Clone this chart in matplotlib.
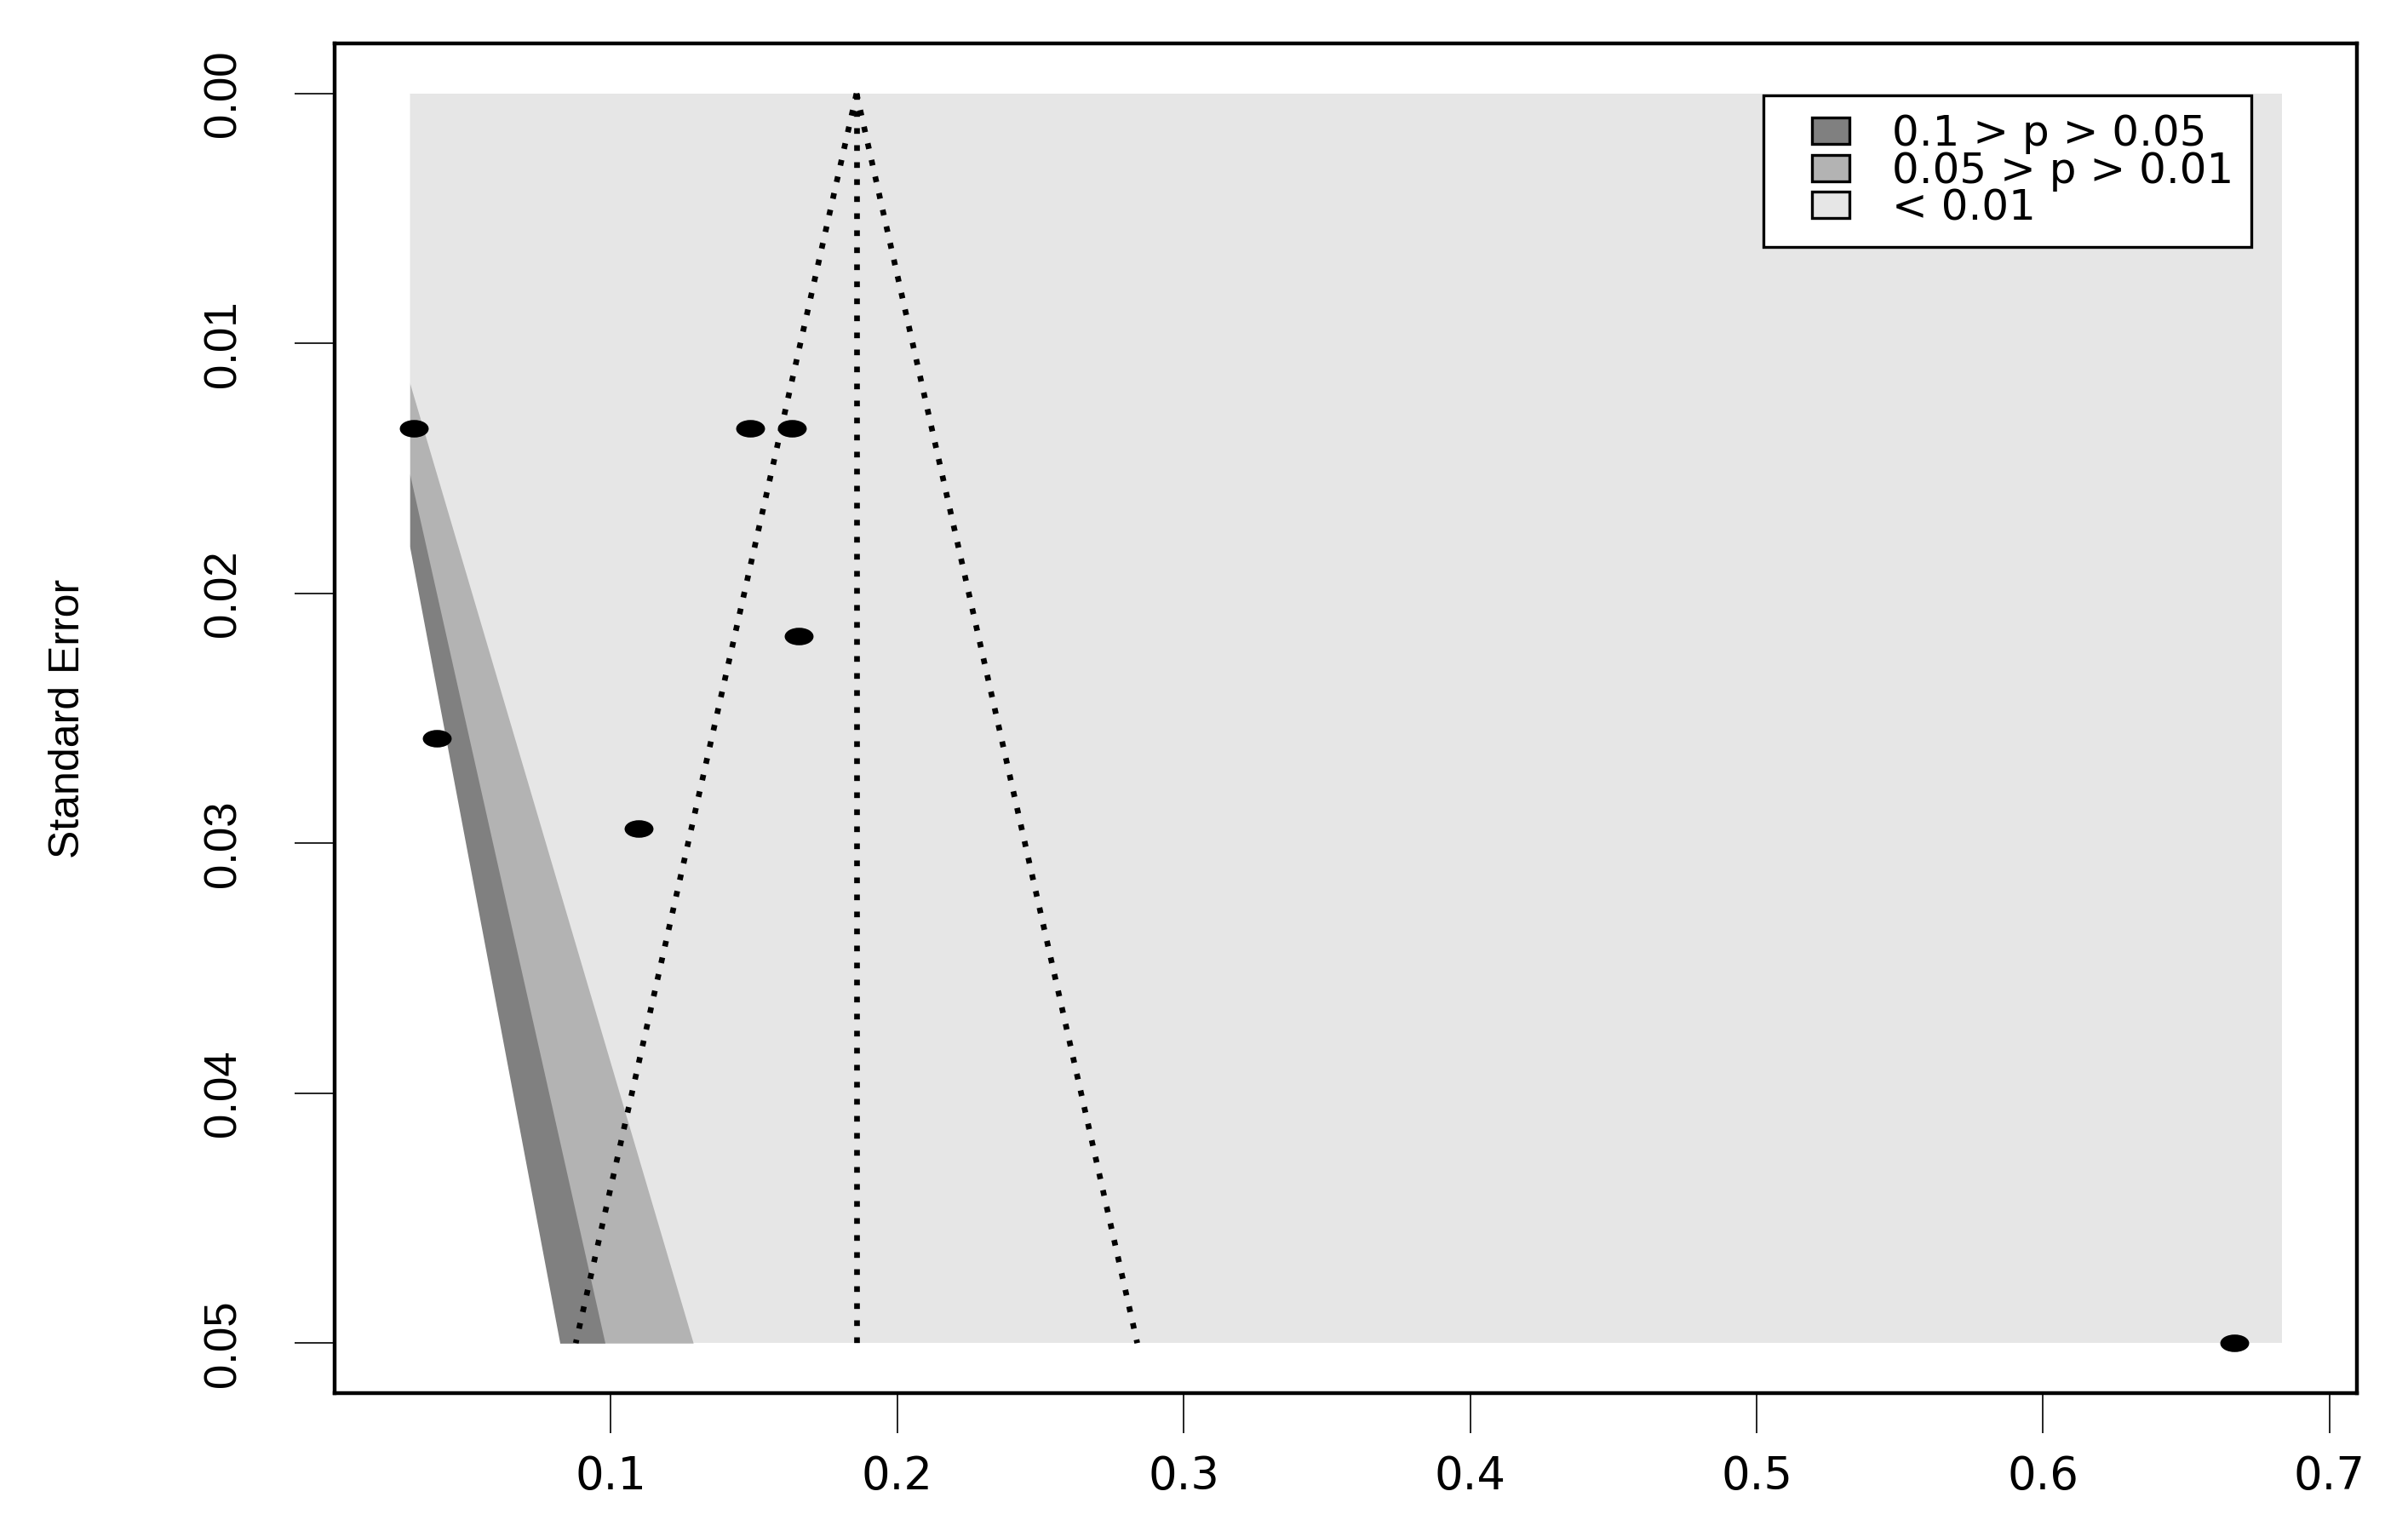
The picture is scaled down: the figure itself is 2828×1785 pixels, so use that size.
import numpy as np
import matplotlib
matplotlib.use("Agg")
import matplotlib.pyplot as plt
import matplotlib.transforms as mtransforms
from matplotlib.legend_handler import HandlerPatch
from matplotlib.patches import Patch, Rectangle
from matplotlib.path import Path

plt.rcParams["font.family"] = ["Liberation Sans", "DejaVu Sans"]
WIDE = ["DejaVu Sans"]  # wider face, stands in for the horizontally stretched Arial

# study estimates and their standard errors (read off the funnel)
EFFECT = [0.0314, 0.1488, 0.1633, 0.1655, 0.0394, 0.1097, 0.6668]
SE = [0.0134, 0.0134, 0.0134, 0.0217, 0.0258, 0.0294, 0.0500]
POOLED = 0.1858

# contour-enhanced region (centred on 0)
REGION_X = [0.0298, 0.6834]
SE_MAX = 0.05
Z_LEVELS = [2.576, 1.96, 1.645]          # p = 0.01, 0.05, 0.10
SHADES = ["#E6E6E6", "#B3B3B3", "#808080", "white"]
LEGEND_LABELS = ["0.1 > p > 0.05", "0.05 > p > 0.01", "< 0.01"]
LEGEND_COLORS = ["#808080", "#B3B3B3", "#E6E6E6"]

X_TICKS = [0.1, 0.2, 0.3, 0.4, 0.5, 0.6, 0.7]
Y_TICKS = [0.00, 0.01, 0.02, 0.03, 0.04, 0.05]


def _right_box(legend, orig_handle, xdescent, ydescent, width, height, fontsize):
    # R puts the fill box a bit in from the frame; keep it at the right of the handle slot
    w = 0.88 * fontsize
    return Rectangle((-xdescent + width - w, -ydescent), w, height)


def main():
    fig = plt.figure(figsize=(14.14, 8.925), dpi=200)
    ax = fig.add_axes([0.139, 0.0835, 0.8398, 0.8879])

    xl, xr = REGION_X
    se_grid = np.linspace(0, SE_MAX, 600)

    # light background for p < 0.01, then bands on top
    ax.fill_between(REGION_X, 0, SE_MAX, color=SHADES[0], lw=0, zorder=1,
                    antialiased=False)
    for z, col in zip(Z_LEVELS, SHADES[1:]):
        se = se_grid
        left = xl
        if col == "white":
            # hide the grey seams round the white wedge
            se = np.append(se_grid, SE_MAX * 1.01)
            left = xl - 0.004
        edge = np.clip(z * se, xl, xr)
        ax.fill_betweenx(se, left, np.maximum(edge, left), color=col, lw=0,
                         zorder=2, antialiased=False)

    # pseudo confidence funnel around the pooled estimate
    dot = dict(color="black", lw=2.4, linestyle=(0, (1, 2)), dash_capstyle="butt", zorder=3)
    ax.plot([POOLED, POOLED], [0, SE_MAX], **dot)
    ax.plot([POOLED, POOLED - 1.96 * SE_MAX], [0, SE_MAX], **dot)
    ax.plot([POOLED, POOLED + 1.96 * SE_MAX], [0, SE_MAX], **dot)

    # points are drawn as wide ellipses, like the stretched original
    ell = Path.unit_circle().transformed(mtransforms.Affine2D().scale(1.75, 1.0))
    ax.plot(EFFECT, SE, linestyle="none", marker=ell, markersize=11.2,
            color="black", zorder=4)

    xpad = 0.04 * (xr - xl)
    ax.set_xlim(xl - xpad, xr + xpad)
    ax.set_ylim(SE_MAX + 0.04 * SE_MAX, -0.04 * SE_MAX)

    ax.set_xticks(X_TICKS)
    ax.set_xticklabels([f"{v:.1f}" for v in X_TICKS], family=WIDE)
    ax.set_yticks(Y_TICKS)
    ax.set_yticklabels([f"{v:.2f}" for v in Y_TICKS], rotation=90, va="center")
    ax.tick_params(axis="both", direction="out", length=17, width=0.6,
                   labelsize=19, colors="black")
    ax.tick_params(axis="x", pad=9)
    ax.tick_params(axis="y", pad=21)
    for sp in ax.spines.values():
        sp.set_linewidth(1.6)

    ax.set_ylabel("Standard Error", fontsize=18)
    ax.yaxis.set_label_coords(-0.122, 0.5)

    handles = [Patch(facecolor=c, edgecolor="black", lw=1.2) for c in LEGEND_COLORS]
    leg = ax.legend(handles, LEGEND_LABELS, loc="upper right",
                    bbox_to_anchor=(0.9478, 0.9615), borderaxespad=0,
                    prop={"family": WIDE, "size": 18},
                    frameon=True, fancybox=False, framealpha=1,
                    edgecolor="black", handlelength=1.6, handleheight=0.58,
                    handletextpad=1.0, labelspacing=-0.085, borderpad=0.42,
                    handler_map={Patch: HandlerPatch(patch_func=_right_box)})
    leg.get_frame().set_linewidth(1.2)
    leg.set_zorder(5)

    fig.savefig("out.png", dpi=200)
    plt.close(fig)


if __name__ == "__main__":
    main()
